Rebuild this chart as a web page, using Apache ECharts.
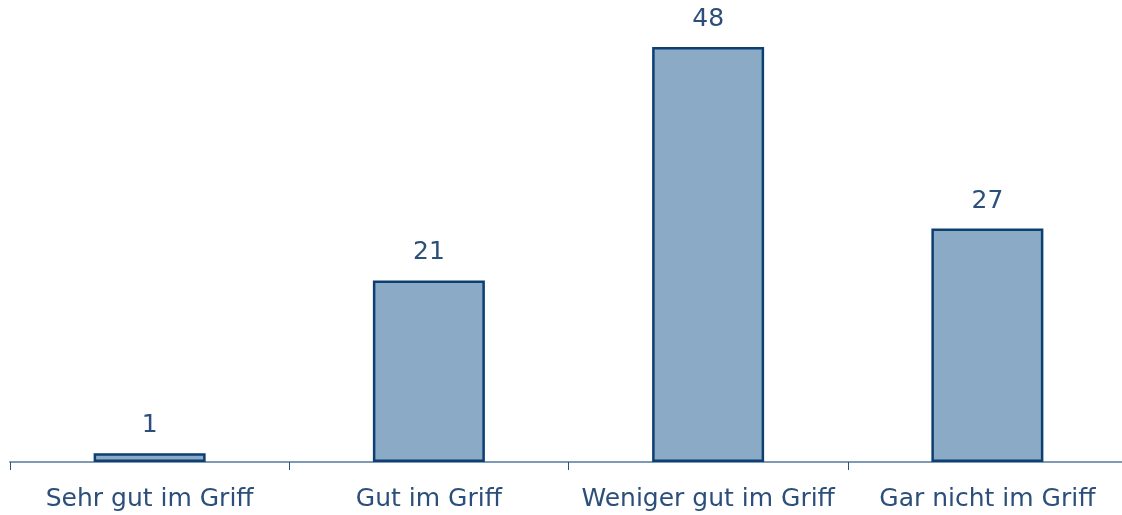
<!DOCTYPE html>
<html>
<head>
<meta charset="utf-8">
<script src="https://cdn.jsdelivr.net/npm/echarts@6/dist/echarts.min.js"></script>
<style>
  html, body { margin: 0; padding: 0; background: #fff; overflow: hidden; }
  #chart { width: 1128px; height: 515px; }
</style>
</head>
<body>
<div id="chart"></div>
<script>
var categories = ['Sehr gut im Griff', 'Gut im Griff', 'Weniger gut im Griff', 'Gar nicht im Griff'];
var values = [1, 21, 48, 27];

var textColor = '#2b4f7a';
var font = '"DejaVu Sans", Verdana, sans-serif';
var chart = echarts.init(document.getElementById('chart'));
chart.setOption({
  animation: false,
  grid: { left: 10, top: 47, right: 1, bottom: 53, containLabel: false },
  xAxis: {
    type: 'category',
    data: categories,
    axisLine: { lineStyle: { color: '#7f9ab5', width: 2 } },
    axisTick: { show: true, length: 8, lineStyle: { color: '#2d5273', width: 1 } },
    axisLabel: { color: textColor, fontFamily: font, fontSize: 25, margin: 25, interval: 0 }
  },
  yAxis: {
    type: 'value', min: 0, max: 48, show: false,
    splitLine: { show: false }
  },
  series: [{
    type: 'bar',
    data: values,
    barWidth: 112,
    itemStyle: { color: '#8aaac6', borderColor: '#0d3f73', borderWidth: 2.5 },
    label: {
      show: true, position: 'top', distance: 15,
      color: textColor, fontFamily: font, fontSize: 25
    }
  }]
});
</script>
</body>
</html>
